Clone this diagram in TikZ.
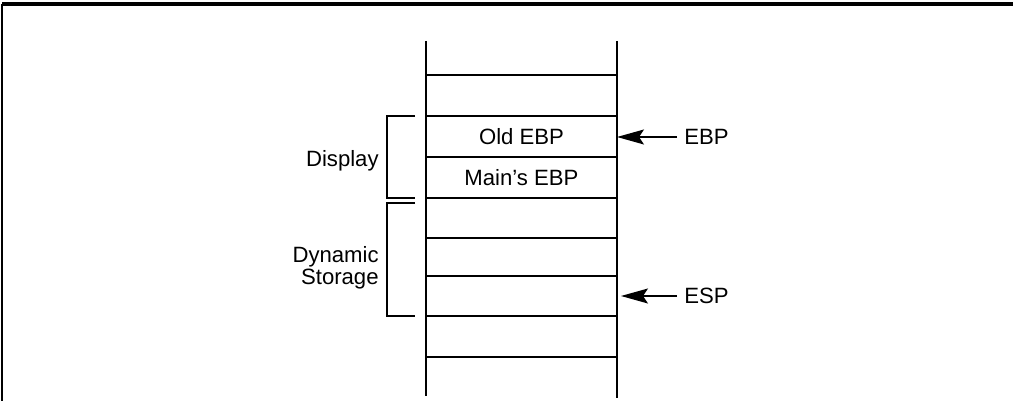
\documentclass[tikz,border=0pt]{standalone}
\usepackage{fontspec}
\setmainfont{Liberation Sans}
\usetikzlibrary{arrows.meta, positioning}

\begin{document}
\begin{tikzpicture}[
        x=0.02cm, y=-0.02cm,
        label/.style={font={\fontsize{12.6}{12.8}\selectfont}, inner sep=4pt},
        frame/.style={line width=2pt},
        wall/.style={line width=1.4pt},
        cellline/.style={line width=0.8pt},
        brace/.style={line width=0.8pt},
        ptr/.style={line width=0.8pt, -{Stealth[length=0.54cm, width=0.3cm, inset=0.1cm]}}
    ]
        \useasboundingbox (0,0) rectangle (1013,401);

        % Outer frame
        \draw[frame] (1013,4) -- (2,4);
        \draw[line width=1.2pt] (2,4) -- (2,401);

        % Stack walls
        \draw[wall] (426,41) -- (426,396);
        \draw[wall] (617,41) -- (617,398);

        % Stack cells
        \foreach \y in {75,116,157,198,238,276,316}
            \draw[cellline] (426,\y) -- (617,\y);
        \draw[wall] (426,357) -- (618,357);

        \node (oldebp) [label] at (521.5,137) {Old EBP};
        \node (mainebp) [label] at (521.5,178) {Main’s EBP};

        % Brackets
        \draw[brace] (415,116) -- (387,116) -- (387,198) -- (415,198);
        \draw[brace] (415,203) -- (387,203) -- (387,316) -- (415,316);

        \node (display) [label, anchor=east] at (386,161) {Display};
        \node (dynamic) [label, anchor=east, align=right] at (386,268) {Dynamic\\Storage};

        % Pointers
        \coordinate (ebptip) at (617,137);
        \coordinate (esptip) at (621,296);
        \node (ebp) [label, anchor=west] at (677,137) {EBP};
        \node (esp) [label, anchor=west] at (677,296) {ESP};

        \draw[ptr] (ebp.west) -- (ebptip);
        \draw[ptr] (esp.west) -- (esptip);

    \end{tikzpicture}
\end{document}
